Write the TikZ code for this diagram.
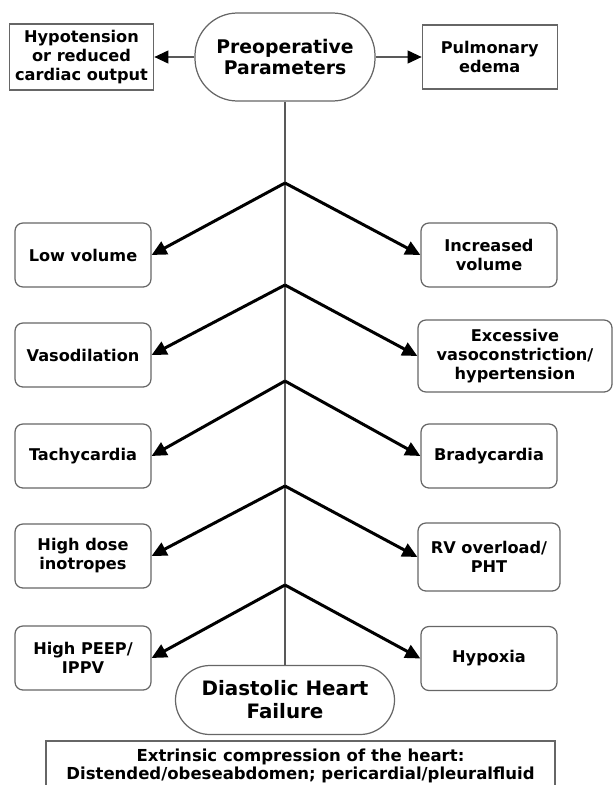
\documentclass[tikz,border=0pt]{standalone}
\usepackage{fontspec}
\setmainfont{DejaVu Sans}
\usepackage{tikz}
\usetikzlibrary{arrows.meta, positioning}

\begin{document}
\begin{tikzpicture}[
        every node/.style={font=\bfseries\fontsize{9.2}{10.8}\selectfont},
        terminal/.style={rectangle, draw=gray!80!black, line width=0.7pt, rounded corners=0.85cm, minimum width=3.6cm, minimum height=1.76cm, align=center, font=\bfseries\fontsize{10.7}{12}\selectfont},
        plainbox/.style={rectangle, draw=gray!80!black, line width=0.7pt, minimum height=1.32cm, align=center},
        causebox/.style={rectangle, draw=gray!80!black, line width=0.7pt, rounded corners=4.5pt, minimum width=2.72cm, minimum height=1.28cm, align=center},
        trunk/.style={draw=gray!70!black, line width=0.6pt},
        sidearrow/.style={gray!70!black, line width=0.6pt, -{Triangle[length=0.28cm, width=0.26cm, color=black]}},
        arrow/.style={line width=1.7pt, -{Triangle[length=0.3cm, width=0.28cm]}}
    ]
    \useasboundingbox (0,0) rectangle (12.28,-15.7);

    % Nodes
    \node[terminal] (preop) at (5.7,-1.14) {Preoperative \\ Parameters};
    \node[plainbox, minimum width=2.86cm, left=0.8cm of preop] (hypo) {Hypotension \\ or reduced \\ cardiac output};
    \node[plainbox, minimum width=2.7cm, minimum height=1.28cm, right=0.92cm of preop] (pulm) {Pulmonary \\ edema};

    \node[causebox] (lowvol) at (1.66,-5.10) {Low volume};
    \node[causebox] (vasodil) at (1.66,-7.10) {Vasodilation};
    \node[causebox] (tachy) at (1.66,-9.12) {Tachycardia};
    \node[causebox] (inotr) at (1.66,-11.12) {High dose \\ inotropes};
    \node[causebox] (peep) at (1.66,-13.16) {High PEEP/ \\ IPPV};

    \node[causebox] (incvol) at (9.78,-5.10) {Increased \\ volume};
    \node[causebox, minimum width=3.88cm, minimum height=1.44cm] (vasocon) at (10.30,-7.12) {Excessive \\ vasoconstriction/ \\ hypertension};
    \node[causebox] (brady) at (9.78,-9.12) {Bradycardia};
    \node[causebox, minimum width=2.84cm, minimum height=1.36cm] (rvover) at (9.78,-11.14) {RV overload/ \\ PHT};
    \node[causebox] (hypox) at (9.78,-13.17) {Hypoxia};

    \node[terminal, minimum width=4.38cm, minimum height=1.38cm, rounded corners=0.69cm, font=\bfseries\fontsize{11.3}{13}\selectfont] (dhf) at (5.7,-14.0) {Diastolic Heart \\ Failure};
    \node[plainbox, minimum width=10.18cm, minimum height=1.0cm, font=\bfseries\fontsize{9.4}{9.8}\selectfont] (extr) at (6.01,-15.32) {Extrinsic compression of the heart: \\ Distended/obeseabdomen; pericardial/pleuralfluid};

    % Fork points on the trunk
    \coordinate (fork1) at (5.7,-3.66);
    \coordinate (fork2) at (5.7,-5.70);
    \coordinate (fork3) at (5.7,-7.62);
    \coordinate (fork4) at (5.7,-9.72);
    \coordinate (fork5) at (5.7,-11.70);

    % Arrows
    \draw[trunk] (preop) -- (dhf);
    \draw[sidearrow] (preop) -- (hypo);
    \draw[sidearrow] (preop) -- (pulm);

    \draw[arrow] (fork1) -- (lowvol.east);
    \draw[arrow] (fork1) -- (incvol.west);
    \draw[arrow] (fork2) -- (vasodil.east);
    \draw[arrow] (fork2) -- (vasocon.west);
    \draw[arrow] (fork3) -- (tachy.east);
    \draw[arrow] (fork3) -- (brady.west);
    \draw[arrow] (fork4) -- (inotr.east);
    \draw[arrow] (fork4) -- (rvover.west);
    \draw[arrow] (fork5) -- (peep.east);
    \draw[arrow] (fork5) -- (hypox.west);
\end{tikzpicture}
\end{document}
